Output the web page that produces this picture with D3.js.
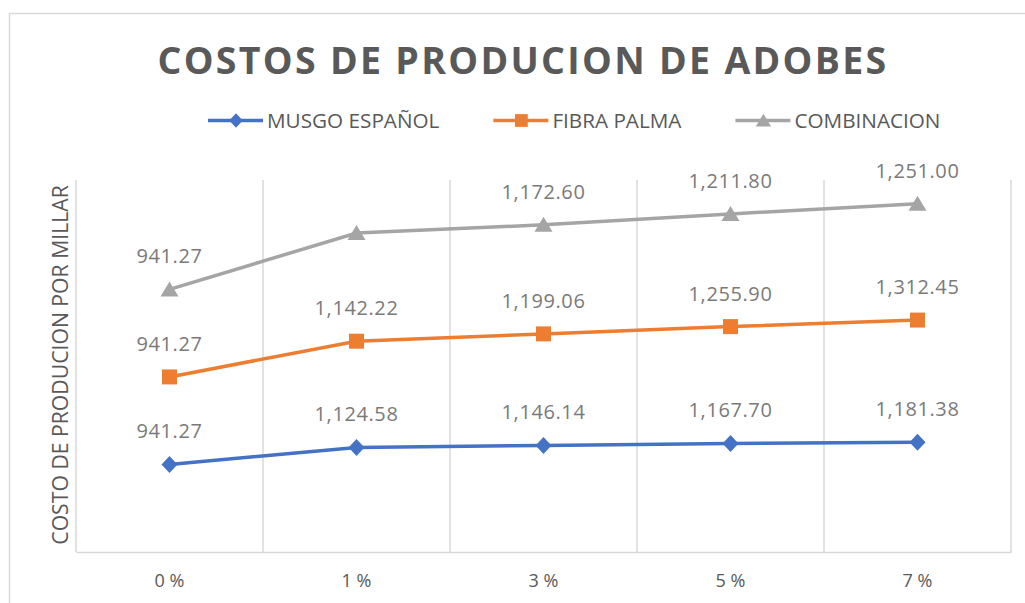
<!DOCTYPE html>
<html>
<head>
<meta charset="utf-8">
<script src="https://cdnjs.cloudflare.com/ajax/libs/d3/7.8.5/d3.min.js"></script>
<style>
  body { margin: 0; background: #fff; }
  text { font-family: "Open Sans", sans-serif; fill: #595959; }
</style>
</head>
<body>
<div id="chart"></div>
<script>
// Data (stacked line chart - Excel style)
var categories = ["0 %", "1 %", "3 %", "5 %", "7 %"];
var seriesNames = ["MUSGO ESPAÑOL", "FIBRA PALMA", "COMBINACION"];
var musgo = [941.27, 1124.58, 1146.14, 1167.70, 1181.38];
var fibra = [941.27, 1142.22, 1199.06, 1255.90, 1312.45];
var combinacion = [941.27, 1163.40, 1172.60, 1211.80, 1251.00];
// which points carry a data label (the 1% combinacion label is not shown)
var showLabel = [
  [true, true, true, true, true],
  [true, true, true, true, true],
  [true, false, true, true, true]
];
var yDomain = [0, 4000];

var colors = ["#4472c4", "#ed7d31", "#a5a5a5"];
var width = 1025, height = 603;

var svg = d3.select("#chart").append("svg")
  .attr("width", width)
  .attr("height", height);

// chart area border
svg.append("rect")
  .attr("x", 9.5).attr("y", 13.5)
  .attr("width", 1100).attr("height", 700)
  .attr("fill", "none")
  .attr("stroke", "#d9d9d9")
  .attr("stroke-width", 1.5);

var x = d3.scaleBand().domain(categories).range([76, 1011]).padding(0);
var y = d3.scaleLinear().domain(yDomain).range([552, 180]);

// build stacked values
var rows = categories.map(function (c, i) {
  return { cat: c, s0: musgo[i], s1: fibra[i], s2: combinacion[i] };
});
var stacked = d3.stack().keys(["s0", "s1", "s2"])(rows);

// vertical gridlines at category boundaries
var bounds = categories.map(function (c) { return x(c); }).concat([x.range()[1]]);
svg.append("g").selectAll("line")
  .data(bounds)
  .enter().append("line")
  .attr("x1", function (d) { return d; })
  .attr("x2", function (d) { return d; })
  .attr("y1", y(yDomain[1]))
  .attr("y2", y(0))
  .attr("stroke", "#d9d9d9")
  .attr("stroke-width", 1.5);

// x axis
var xAxis = svg.append("g")
  .attr("transform", "translate(0," + y(0) + ")")
  .call(d3.axisBottom(x).tickSize(0).tickPadding(22));
xAxis.select(".domain").attr("stroke", "#d9d9d9").attr("stroke-width", 1.5);
xAxis.selectAll("text")
  .style("font-family", "'Open Sans', sans-serif")
  .style("font-size", "18px")
  .attr("fill", "#595959");

var line = d3.line()
  .x(function (d) { return x(d.data.cat) + x.bandwidth() / 2; })
  .y(function (d) { return y(d[1]); });

// Excel-like markers
function marker(sel, k, s) {
  var p;
  if (k === 0) {
    p = "M0," + (-8.5 * s) + "L" + (8 * s) + ",0L0," + (8.5 * s) + "L" + (-8 * s) + ",0Z";
  } else if (k === 1) {
    p = "M" + (-7.5 * s) + "," + (-7.5 * s) + "h" + (15 * s) + "v" + (15 * s) + "h" + (-15 * s) + "Z";
  } else {
    p = "M0," + (-8 * s) + "L" + (9 * s) + "," + (7 * s) + "L" + (-9 * s) + "," + (7 * s) + "Z";
  }
  sel.append("path").attr("d", p);
}

stacked.forEach(function (layer, k) {
  svg.append("path")
    .datum(layer)
    .attr("fill", "none")
    .attr("stroke", colors[k])
    .attr("stroke-width", 3.5)
    .attr("d", line);

  var pts = svg.append("g").selectAll("g")
    .data(layer)
    .enter().append("g")
    .attr("transform", function (d) {
      return "translate(" + (x(d.data.cat) + x.bandwidth() / 2) + "," + y(d[1]) + ")";
    })
    .attr("fill", colors[k]);
  pts.each(function () { marker(d3.select(this), k, 1); });

  svg.append("g").selectAll("text")
    .data(layer.filter(function (d, i) { return showLabel[k][i]; }))
    .enter().append("text")
    .attr("x", function (d) { return x(d.data.cat) + x.bandwidth() / 2; })
    .attr("y", function (d) { return y(d[1]) - 26; })
    .attr("text-anchor", "middle")
    .style("font-size", "20px")
    .style("letter-spacing", "0.6px")
    .style("fill", "#7a7a7a")
    .text(function (d) { return d3.format(",.2f")(d[1] - d[0]); });
});

// title
svg.append("text")
  .attr("x", 523).attr("y", 74)
  .attr("text-anchor", "middle")
  .style("font-size", "37.5px")
  .style("font-weight", "bold")
  .style("letter-spacing", "2.3px")
  .text("COSTOS DE PRODUCION DE ADOBES");

// legend: laid out left to right
var lx = 208;
seriesNames.forEach(function (name, i) {
  var g = svg.append("g").attr("transform", "translate(" + lx + ",120.5)");
  g.append("line")
    .attr("x1", 0).attr("x2", 55)
    .attr("stroke", colors[i])
    .attr("stroke-width", 3.5);
  var m = g.append("g").attr("transform", "translate(28,0)").attr("fill", colors[i]);
  marker(m, i, 0.85);
  var t = g.append("text")
    .attr("x", 59).attr("y", 7.5)
    .style("font-size", "20.7px")
    .text(name);
  lx += 59 + t.node().getComputedTextLength() + 54;
});

// y axis title
svg.append("text")
  .attr("transform", "translate(68,365) rotate(-90)")
  .attr("text-anchor", "middle")
  .style("font-size", "21.2px")
  .text("COSTO DE PRODUCION POR MILLAR");
</script>
</body>
</html>
